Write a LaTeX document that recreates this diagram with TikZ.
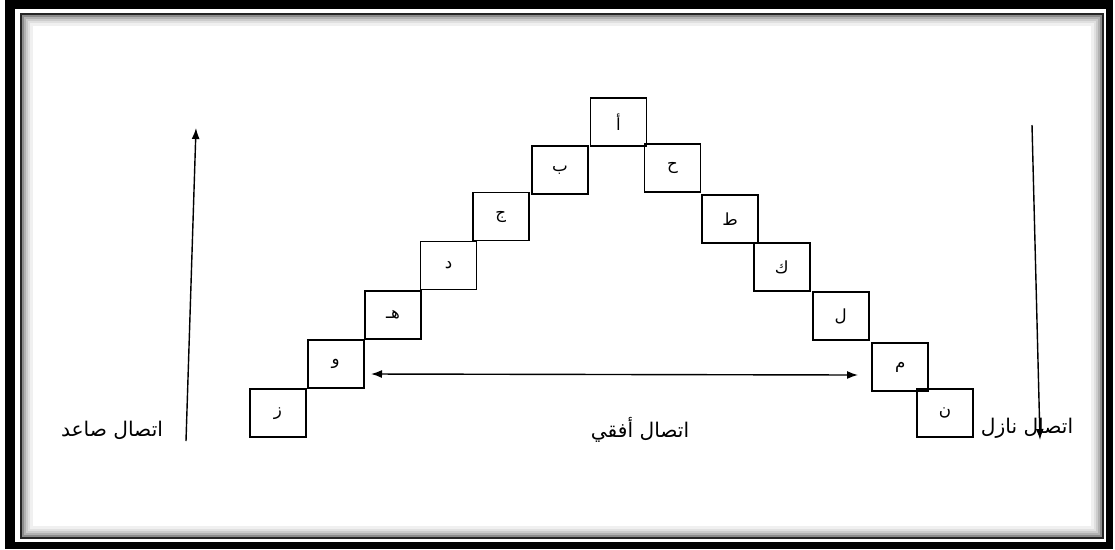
\documentclass[tikz,border=0pt]{standalone}
\usepackage{fontspec}
\newfontfamily\arabicfont[Script=Arabic]{DejaVu Sans}
\TeXXeTstate=1
\usetikzlibrary{arrows.meta}
\newcommand{\arb}[1]{\beginR #1\endR}
\tikzset{
  letterbox/.style={draw, line width=1.1pt, minimum width=1.12cm, minimum height=0.96cm, inner sep=0pt, font=\arabicfont\fontsize{9.5}{11}\selectfont},
  lbl/.style={font=\arabicfont\fontsize{11.5}{13}\selectfont, inner sep=0pt}
}

\begin{document}
\begin{tikzpicture}[x=0.02cm, y=-0.02cm, >={Latex[length=2.2mm,width=1.6mm]},
  conn/.style={line width=0.8pt}]
\useasboundingbox (0,0) rectangle (1115,549);
% frame
\fill[black] (5,0) rectangle (1113,549);
\fill[white] (15,9) rectangle (1106,542);
\draw[line width=1.7pt, black!85] (21.5,14.5) rectangle (1102.5,537.5);
\foreach \i/\g in {1/45,2/30,3/20,4/12,5/6}
  \draw[line width=1.2pt, black!\g] (21.5+2*\i,14.5+2*\i) rectangle (1102.5-2*\i,537.5-2*\i);
% boxes of the staircase
\foreach \name/\px/\py/\txt in {
    a/618.5/122/أ, b/560/170/ب, c/500.7/216.5/ج, d/448.5/265.5/د,
    e/393/315/هـ, f/335.7/364/و, g/278/413.3/ز,
    h/672.5/168.3/ح, i/730/219.3/ط, k/781.7/267.3/ك, l/840.7/316.3/ل,
    m/900.3/367.3/م, n/945/413.3/ن}
  \node[letterbox] (\name) at (\px,\py) {\arb{\txt}};
% connectors
\coordinate (hl) at (371,374);
\coordinate (hr) at (858,375);
\draw[conn, <->] (hl) -- (hr);
\coordinate (up0) at (186,441);
\coordinate (up1) at (196,128);
\draw[conn, ->] (up0) -- (up1);
\coordinate (dn0) at (1032,125);
\coordinate (dn1) at (1040,440);
\draw[conn, ->] (dn0) -- (dn1);
% labels
\node[lbl] (ascLbl) at (112,430) {\arb{اتصال صاعد}};
\node[lbl] (horLbl) at (640,430) {\arb{اتصال أفقي}};
\node[lbl] (descLbl) at (1027,428) {\arb{اتصال نازل}};
\end{tikzpicture}
\end{document}
